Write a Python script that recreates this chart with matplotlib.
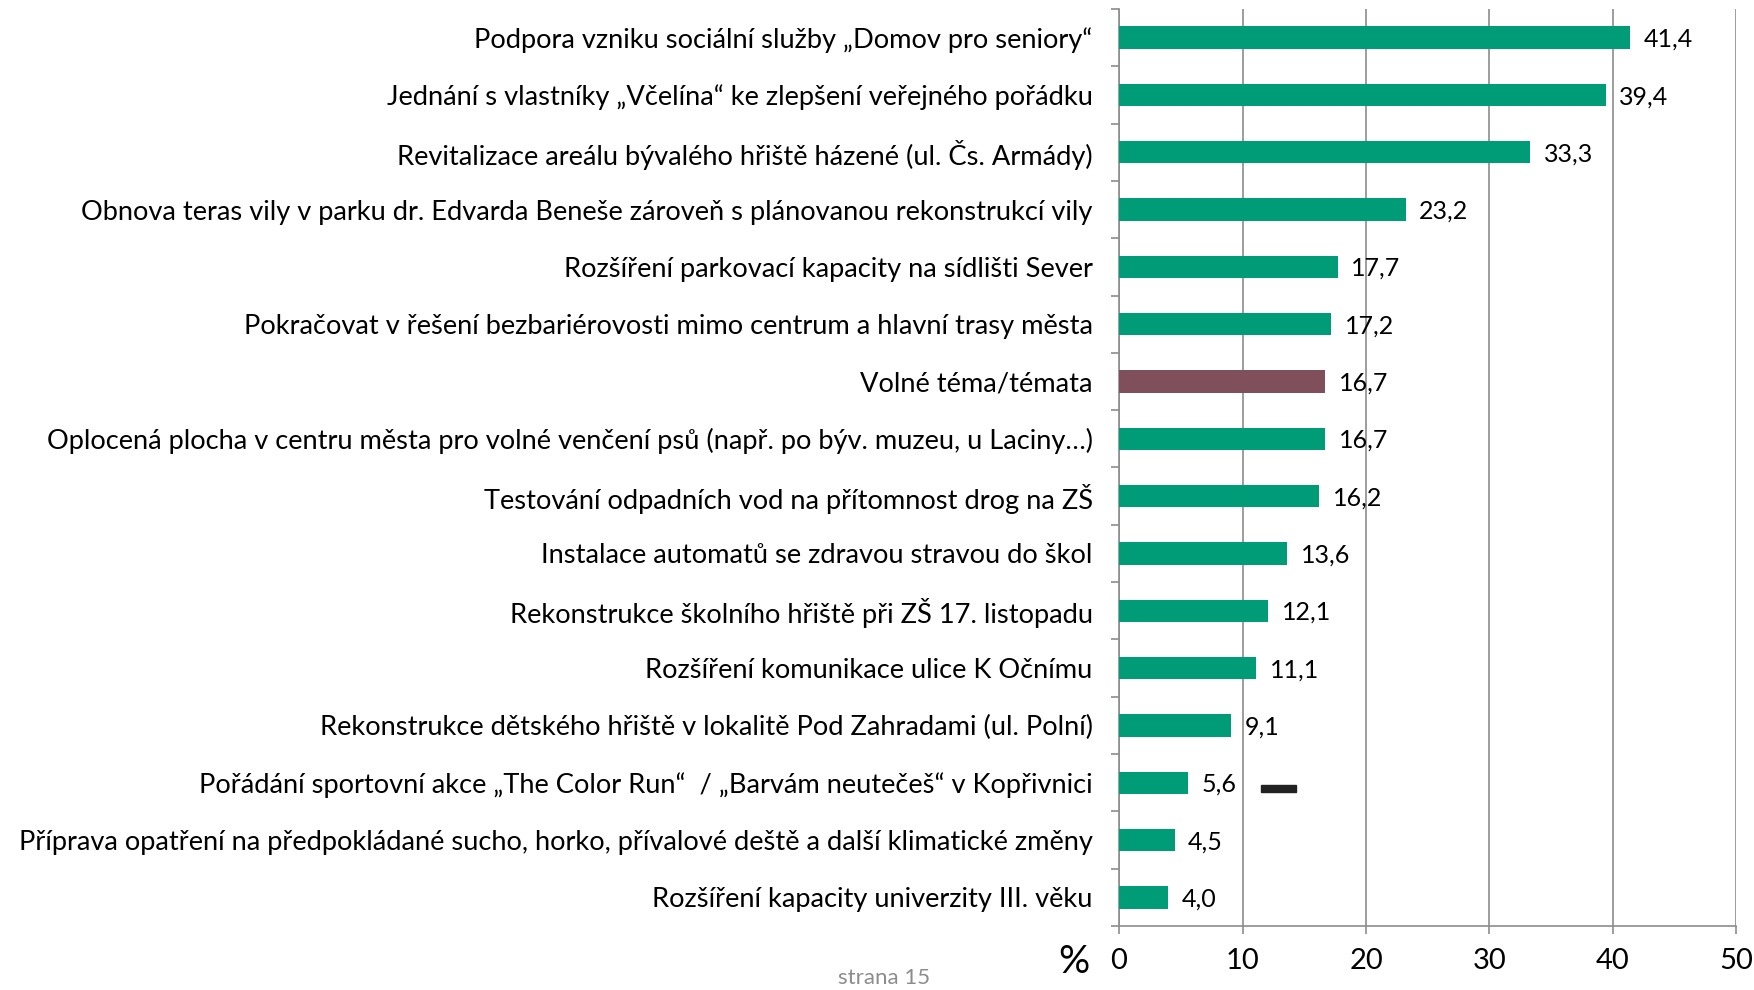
import matplotlib.pyplot as plt
import matplotlib.patches as mpatches
import numpy as np

plt.rcParams["font.family"] = ["Lato", "DejaVu Sans"]

labels = [
    "Podpora vzniku sociální služby „Domov pro seniory“",
    "Jednání s vlastníky „Včelína“ ke zlepšení veřejného pořádku",
    "Revitalizace areálu bývalého hřiště házené (ul. Čs. Armády)",
    "Obnova teras vily v parku dr. Edvarda Beneše zároveň s plánovanou rekonstrukcí vily",
    "Rozšíření parkovací kapacity na sídlišti Sever",
    "Pokračovat v řešení bezbariérovosti mimo centrum a hlavní trasy města",
    "Volné téma/témata",
    "Oplocená plocha v centru města pro volné venčení psů (např. po býv. muzeu, u Laciny…)",
    "Testování odpadních vod na přítomnost drog na ZŠ",
    "Instalace automatů se zdravou stravou do škol",
    "Rekonstrukce školního hřiště při ZŠ 17. listopadu",
    "Rozšíření komunikace ulice K Očnímu",
    "Rekonstrukce dětského hřiště v lokalitě Pod Zahradami (ul. Polní)",
    "Pořádání sportovní akce „The Color Run“  / „Barvám neutečeš“ v Kopřivnici",
    "Příprava opatření na předpokládané sucho, horko, přívalové deště a další klimatické změny",
    "Rozšíření kapacity univerzity III. věku",
]
values = [41.4, 39.4, 33.3, 23.2, 17.7, 17.2, 16.7, 16.7, 16.2, 13.6, 12.1, 11.1, 9.1, 5.6, 4.5, 4.0]
highlight = "Volné téma/témata"

green = "#009B77"
maroon = "#7F4F5C"
grey = "#8C8C8C"

fig = plt.figure(figsize=(17.54, 9.90), dpi=100)
ax = fig.add_axes([0.638, 0.0646, 0.352, 0.9264])

y = np.arange(len(labels))
colors = [maroon if lab == highlight else green for lab in labels]
ax.barh(y, values, height=0.39, color=colors, zorder=3)

for yi, v in zip(y, values):
    ax.text(v + 1.1, yi + 0.03, f"{v:.1f}".replace(".", ","), va="center", ha="left",
            fontsize=18, color="black", zorder=4)

ax.set_ylim(len(labels) - 0.5, -0.5)
ax.set_xlim(0, 50)
ax.set_xticks(np.arange(0, 51, 10))
ax.set_yticks(y)
ax.set_yticklabels(labels, fontsize=19.6)
ax.tick_params(axis="y", length=0, pad=19)
ax.set_yticks(np.arange(-0.5, len(labels), 1), minor=True)
ax.tick_params(axis="y", which="minor", length=6, color=grey, width=1.2)
ax.tick_params(axis="x", length=6, color=grey, width=1.2, labelsize=21, pad=10)

ax.grid(axis="x", color=grey, linewidth=1.2, zorder=0)
for side in ["top", "right"]:
    ax.spines[side].set_visible(False)
for side in ["left", "bottom"]:
    ax.spines[side].set_color(grey)
    ax.spines[side].set_linewidth(1.2)

# small stray mark next to the 5,6 label
ax.add_patch(mpatches.Rectangle((11.5, 13.04), 2.8, 0.12, color="#222222", zorder=5))

fig.text(0.612, 0.028, "%", fontsize=28, ha="center", va="center")
fig.text(0.504, 0.012, "strana 15", fontsize=16, color="#8C8C8C", ha="center", va="center")

fig.savefig("out.png", dpi=100)
